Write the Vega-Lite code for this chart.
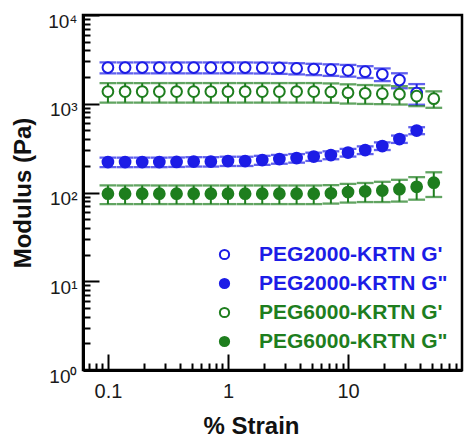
{
  "$schema": "https://vega.github.io/schema/vega-lite/v6.json",
  "width": 379,
  "height": 355,
  "autosize": {"type": "none"},
  "padding": {"left": 83, "top": 15, "right": 4, "bottom": 68},
  "background": "white",
  "config": {
    "view": {"stroke": "black", "strokeWidth": 2.5},
    "font": "Liberation Sans",
    "axis": {"grid": false, "tickColor": "black", "tickWidth": 2, "domainColor": "black", "domainWidth": 3},
    "legend": {"padding": 0, "labelFontSize": 21, "labelFontWeight": "bold", "labelLimit": 400, "labelOffset": 24, "symbolType": "circle", "symbolSize": 85, "symbolStrokeWidth": 2, "symbolOpacity": 1, "rowPadding": 7}
  },
  "resolve": {"axis": {"x": "independent", "y": "independent"}},
  "data": {"values": [
    {"series": "PEG2000-KRTN G'", "strain": 0.1, "modulus": 2560, "lo": 2200, "hi": 2920},
    {"series": "PEG2000-KRTN G'", "strain": 0.139, "modulus": 2560, "lo": 2200, "hi": 2920},
    {"series": "PEG2000-KRTN G'", "strain": 0.193, "modulus": 2560, "lo": 2200, "hi": 2920},
    {"series": "PEG2000-KRTN G'", "strain": 0.268, "modulus": 2560, "lo": 2200, "hi": 2920},
    {"series": "PEG2000-KRTN G'", "strain": 0.373, "modulus": 2560, "lo": 2200, "hi": 2920},
    {"series": "PEG2000-KRTN G'", "strain": 0.518, "modulus": 2560, "lo": 2200, "hi": 2920},
    {"series": "PEG2000-KRTN G'", "strain": 0.72, "modulus": 2560, "lo": 2200, "hi": 2920},
    {"series": "PEG2000-KRTN G'", "strain": 1.0, "modulus": 2560, "lo": 2200, "hi": 2920},
    {"series": "PEG2000-KRTN G'", "strain": 1.39, "modulus": 2560, "lo": 2200, "hi": 2920},
    {"series": "PEG2000-KRTN G'", "strain": 1.93, "modulus": 2550, "lo": 2190, "hi": 2910},
    {"series": "PEG2000-KRTN G'", "strain": 2.68, "modulus": 2530, "lo": 2170, "hi": 2890},
    {"series": "PEG2000-KRTN G'", "strain": 3.73, "modulus": 2500, "lo": 2140, "hi": 2860},
    {"series": "PEG2000-KRTN G'", "strain": 5.18, "modulus": 2460, "lo": 2100, "hi": 2820},
    {"series": "PEG2000-KRTN G'", "strain": 7.2, "modulus": 2420, "lo": 2060, "hi": 2780},
    {"series": "PEG2000-KRTN G'", "strain": 10.0, "modulus": 2380, "lo": 2020, "hi": 2740},
    {"series": "PEG2000-KRTN G'", "strain": 13.9, "modulus": 2300, "lo": 1950, "hi": 2650},
    {"series": "PEG2000-KRTN G'", "strain": 19.3, "modulus": 2150, "lo": 1800, "hi": 2500},
    {"series": "PEG2000-KRTN G'", "strain": 26.8, "modulus": 1850, "lo": 1495, "hi": 2205},
    {"series": "PEG2000-KRTN G'", "strain": 37.3, "modulus": 1320, "lo": 975, "hi": 1665},

    {"series": "PEG2000-KRTN G\"", "strain": 0.1, "modulus": 220, "lo": 193, "hi": 247},
    {"series": "PEG2000-KRTN G\"", "strain": 0.139, "modulus": 220, "lo": 193, "hi": 247},
    {"series": "PEG2000-KRTN G\"", "strain": 0.193, "modulus": 220, "lo": 193, "hi": 247},
    {"series": "PEG2000-KRTN G\"", "strain": 0.268, "modulus": 220, "lo": 193, "hi": 247},
    {"series": "PEG2000-KRTN G\"", "strain": 0.373, "modulus": 221, "lo": 194, "hi": 248},
    {"series": "PEG2000-KRTN G\"", "strain": 0.518, "modulus": 223, "lo": 196, "hi": 250},
    {"series": "PEG2000-KRTN G\"", "strain": 0.72, "modulus": 223, "lo": 196, "hi": 250},
    {"series": "PEG2000-KRTN G\"", "strain": 1.0, "modulus": 226, "lo": 199, "hi": 253},
    {"series": "PEG2000-KRTN G\"", "strain": 1.39, "modulus": 226, "lo": 199, "hi": 253},
    {"series": "PEG2000-KRTN G\"", "strain": 1.93, "modulus": 232, "lo": 205, "hi": 259},
    {"series": "PEG2000-KRTN G\"", "strain": 2.68, "modulus": 238, "lo": 211, "hi": 265},
    {"series": "PEG2000-KRTN G\"", "strain": 3.73, "modulus": 244, "lo": 217, "hi": 271},
    {"series": "PEG2000-KRTN G\"", "strain": 5.18, "modulus": 254, "lo": 227, "hi": 281},
    {"series": "PEG2000-KRTN G\"", "strain": 7.2, "modulus": 264, "lo": 237, "hi": 291},
    {"series": "PEG2000-KRTN G\"", "strain": 10.0, "modulus": 282, "lo": 254, "hi": 310},
    {"series": "PEG2000-KRTN G\"", "strain": 13.9, "modulus": 301, "lo": 271, "hi": 331},
    {"series": "PEG2000-KRTN G\"", "strain": 19.3, "modulus": 334, "lo": 301, "hi": 367},
    {"series": "PEG2000-KRTN G\"", "strain": 26.8, "modulus": 400, "lo": 362, "hi": 438},
    {"series": "PEG2000-KRTN G\"", "strain": 37.3, "modulus": 499, "lo": 454, "hi": 544},

    {"series": "PEG6000-KRTN G'", "strain": 0.1, "modulus": 1370, "lo": 1030, "hi": 1710},
    {"series": "PEG6000-KRTN G'", "strain": 0.139, "modulus": 1370, "lo": 1030, "hi": 1710},
    {"series": "PEG6000-KRTN G'", "strain": 0.193, "modulus": 1370, "lo": 1030, "hi": 1710},
    {"series": "PEG6000-KRTN G'", "strain": 0.268, "modulus": 1370, "lo": 1030, "hi": 1710},
    {"series": "PEG6000-KRTN G'", "strain": 0.373, "modulus": 1370, "lo": 1030, "hi": 1710},
    {"series": "PEG6000-KRTN G'", "strain": 0.518, "modulus": 1370, "lo": 1030, "hi": 1710},
    {"series": "PEG6000-KRTN G'", "strain": 0.72, "modulus": 1370, "lo": 1030, "hi": 1710},
    {"series": "PEG6000-KRTN G'", "strain": 1.0, "modulus": 1370, "lo": 1030, "hi": 1710},
    {"series": "PEG6000-KRTN G'", "strain": 1.39, "modulus": 1370, "lo": 1030, "hi": 1710},
    {"series": "PEG6000-KRTN G'", "strain": 1.93, "modulus": 1370, "lo": 1030, "hi": 1710},
    {"series": "PEG6000-KRTN G'", "strain": 2.68, "modulus": 1370, "lo": 1030, "hi": 1710},
    {"series": "PEG6000-KRTN G'", "strain": 3.73, "modulus": 1370, "lo": 1030, "hi": 1710},
    {"series": "PEG6000-KRTN G'", "strain": 5.18, "modulus": 1370, "lo": 1030, "hi": 1710},
    {"series": "PEG6000-KRTN G'", "strain": 7.2, "modulus": 1360, "lo": 1025, "hi": 1695},
    {"series": "PEG6000-KRTN G'", "strain": 10.0, "modulus": 1330, "lo": 1005, "hi": 1655},
    {"series": "PEG6000-KRTN G'", "strain": 13.9, "modulus": 1310, "lo": 995, "hi": 1625},
    {"series": "PEG6000-KRTN G'", "strain": 19.3, "modulus": 1300, "lo": 990, "hi": 1610},
    {"series": "PEG6000-KRTN G'", "strain": 26.8, "modulus": 1280, "lo": 980, "hi": 1580},
    {"series": "PEG6000-KRTN G'", "strain": 37.3, "modulus": 1220, "lo": 940, "hi": 1500},
    {"series": "PEG6000-KRTN G'", "strain": 51.8, "modulus": 1140, "lo": 900, "hi": 1380},

    {"series": "PEG6000-KRTN G\"", "strain": 0.1, "modulus": 97, "lo": 74, "hi": 120},
    {"series": "PEG6000-KRTN G\"", "strain": 0.139, "modulus": 97, "lo": 74, "hi": 120},
    {"series": "PEG6000-KRTN G\"", "strain": 0.193, "modulus": 97, "lo": 74, "hi": 120},
    {"series": "PEG6000-KRTN G\"", "strain": 0.268, "modulus": 97, "lo": 74, "hi": 120},
    {"series": "PEG6000-KRTN G\"", "strain": 0.373, "modulus": 97, "lo": 74, "hi": 120},
    {"series": "PEG6000-KRTN G\"", "strain": 0.518, "modulus": 97, "lo": 74, "hi": 120},
    {"series": "PEG6000-KRTN G\"", "strain": 0.72, "modulus": 97, "lo": 74, "hi": 120},
    {"series": "PEG6000-KRTN G\"", "strain": 1.0, "modulus": 97, "lo": 74, "hi": 120},
    {"series": "PEG6000-KRTN G\"", "strain": 1.39, "modulus": 97, "lo": 74, "hi": 120},
    {"series": "PEG6000-KRTN G\"", "strain": 1.93, "modulus": 97, "lo": 74, "hi": 120},
    {"series": "PEG6000-KRTN G\"", "strain": 2.68, "modulus": 97, "lo": 74, "hi": 120},
    {"series": "PEG6000-KRTN G\"", "strain": 3.73, "modulus": 97, "lo": 74, "hi": 120},
    {"series": "PEG6000-KRTN G\"", "strain": 5.18, "modulus": 97, "lo": 74, "hi": 120},
    {"series": "PEG6000-KRTN G\"", "strain": 7.2, "modulus": 98, "lo": 75, "hi": 121},
    {"series": "PEG6000-KRTN G\"", "strain": 10.0, "modulus": 101, "lo": 77, "hi": 125},
    {"series": "PEG6000-KRTN G\"", "strain": 13.9, "modulus": 103, "lo": 78, "hi": 128},
    {"series": "PEG6000-KRTN G\"", "strain": 19.3, "modulus": 105, "lo": 78, "hi": 132},
    {"series": "PEG6000-KRTN G\"", "strain": 26.8, "modulus": 109, "lo": 79, "hi": 139},
    {"series": "PEG6000-KRTN G\"", "strain": 37.3, "modulus": 116, "lo": 83, "hi": 149},
    {"series": "PEG6000-KRTN G\"", "strain": 51.8, "modulus": 129, "lo": 89, "hi": 169}
  ]},
  "layer": [
    {
      "mark": {"type": "rule", "strokeWidth": 2},
      "encoding": {
        "x": {
          "field": "strain", "type": "quantitative",
          "scale": {"type": "log", "domain": [0.062, 89], "nice": false},
          "axis": {
            "orient": "bottom",
            "title": "% Strain", "titleFontSize": 24, "titleFontWeight": "bold", "titleColor": "#111",
            "titleX": 168, "titleY": 63, "titleBaseline": "alphabetic", "titleAlign": "center",
            "values": [0.1, 1, 10], "ticks": false, "tickSize": 0,
            "labelExpr": "format(datum.value, '~g')",
            "labelFontSize": 20, "labelColor": "#1a1a1a", "labelPadding": 11,
            "labelFlush": false, "labelOverlap": false, "labelBound": false
          }
        },
        "y": {
          "field": "lo", "type": "quantitative",
          "scale": {"type": "log", "domain": [1, 10000], "nice": false},
          "axis": {
            "orient": "left",
            "title": "Modulus (Pa)", "titleFontSize": 24, "titleFontWeight": "bold", "titleColor": "#111",
            "titleX": -53, "titleBaseline": "alphabetic",
            "values": [1, 10, 100, 1000, 10000], "ticks": false, "tickSize": 0,
            "labelExpr": "datum.value == 1 ? '10⁰' : datum.value == 10 ? '10¹' : datum.value == 100 ? '10²' : datum.value == 1000 ? '10³' : '10⁴'",
            "labelFontSize": 19, "labelColor": "#1a1a1a", "labelPadding": 6, "labelOffset": 6, "labelBaseline": "middle",
            "labelFlush": false, "labelOverlap": false, "labelBound": false
          }
        },
        "y2": {"field": "hi"},
        "stroke": {
          "field": "series", "type": "nominal",
          "scale": {"domain": ["PEG2000-KRTN G'", "PEG2000-KRTN G\"", "PEG6000-KRTN G'", "PEG6000-KRTN G\""], "range": ["#1c1ce6", "#1c1ce6", "#1e7e1e", "#1e7e1e"]},
          "legend": {"title": null, "orient": "none", "legendX": 131, "legendY": 229, "symbolType": "circle", "labelColor": {"expr": "indexof(datum.label, '2000') >= 0 ? '#1c1ce6' : '#1e7e1e'"}}
        }
      }
    },
    {
      "mark": {"type": "tick", "orient": "horizontal", "size": 15, "thickness": 0.5, "filled": false, "strokeWidth": 1.8},
      "encoding": {
        "x": {
          "field": "strain", "type": "quantitative",
          "axis": {
            "orient": "bottom", "title": null, "domain": false, "labels": false,
            "values": [0.07, 0.08, 0.09, 0.2, 0.3, 0.4, 0.5, 0.6, 0.7, 0.8, 0.9, 2, 3, 4, 5, 6, 7, 8, 9, 20, 30, 40, 50, 60, 70, 80],
            "tickSize": 7, "offset": -7
          }
        },
        "y": {
          "field": "lo", "type": "quantitative",
          "axis": {
            "orient": "left", "title": null, "domain": false, "labels": false,
            "values": [2, 3, 4, 5, 6, 7, 8, 9, 20, 30, 40, 50, 60, 70, 80, 90, 200, 300, 400, 500, 600, 700, 800, 900, 2000, 3000, 4000, 5000, 6000, 7000, 8000, 9000],
            "tickSize": 7, "offset": -7
          }
        },
        "stroke": {
          "field": "series", "type": "nominal",
          "legend": {"title": null, "orient": "none", "legendX": 131, "legendY": 229, "symbolType": "circle", "labelColor": {"expr": "indexof(datum.label, '2000') >= 0 ? '#1c1ce6' : '#1e7e1e'"}}
        }
      }
    },
    {
      "mark": {"type": "tick", "orient": "horizontal", "size": 15, "thickness": 0.5, "filled": false, "strokeWidth": 1.8},
      "encoding": {
        "x": {
          "field": "strain", "type": "quantitative",
          "axis": {
            "orient": "bottom", "title": null, "domain": false, "labels": false,
            "values": [0.1, 1, 10],
            "tickSize": 16, "offset": -16
          }
        },
        "y": {
          "field": "hi", "type": "quantitative",
          "axis": {
            "orient": "left", "title": null, "domain": false, "labels": false,
            "values": [1, 10, 100, 1000, 10000],
            "tickSize": 16, "offset": -16
          }
        },
        "stroke": {
          "field": "series", "type": "nominal",
          "legend": {"title": null, "orient": "none", "legendX": 131, "legendY": 229, "symbolType": "circle", "labelColor": {"expr": "indexof(datum.label, '2000') >= 0 ? '#1c1ce6' : '#1e7e1e'"}}
        }
      }
    },
    {
      "mark": {"type": "point", "shape": "circle", "filled": true, "size": 115, "strokeWidth": 2, "opacity": 1},
      "encoding": {
        "x": {"field": "strain", "type": "quantitative", "axis": null},
        "y": {"field": "modulus", "type": "quantitative", "axis": null},
        "fill": {
          "field": "series", "type": "nominal",
          "scale": {"domain": ["PEG2000-KRTN G'", "PEG2000-KRTN G\"", "PEG6000-KRTN G'", "PEG6000-KRTN G\""], "range": ["white", "#1c1ce6", "white", "#1e7e1e"]},
          "legend": {"title": null, "orient": "none", "legendX": 131, "legendY": 229, "symbolType": "circle", "labelColor": {"expr": "indexof(datum.label, '2000') >= 0 ? '#1c1ce6' : '#1e7e1e'"}}
        },
        "stroke": {
          "field": "series", "type": "nominal",
          "legend": {"title": null, "orient": "none", "legendX": 131, "legendY": 229, "symbolType": "circle", "labelColor": {"expr": "indexof(datum.label, '2000') >= 0 ? '#1c1ce6' : '#1e7e1e'"}}
        }
      }
    }
  ]
}
